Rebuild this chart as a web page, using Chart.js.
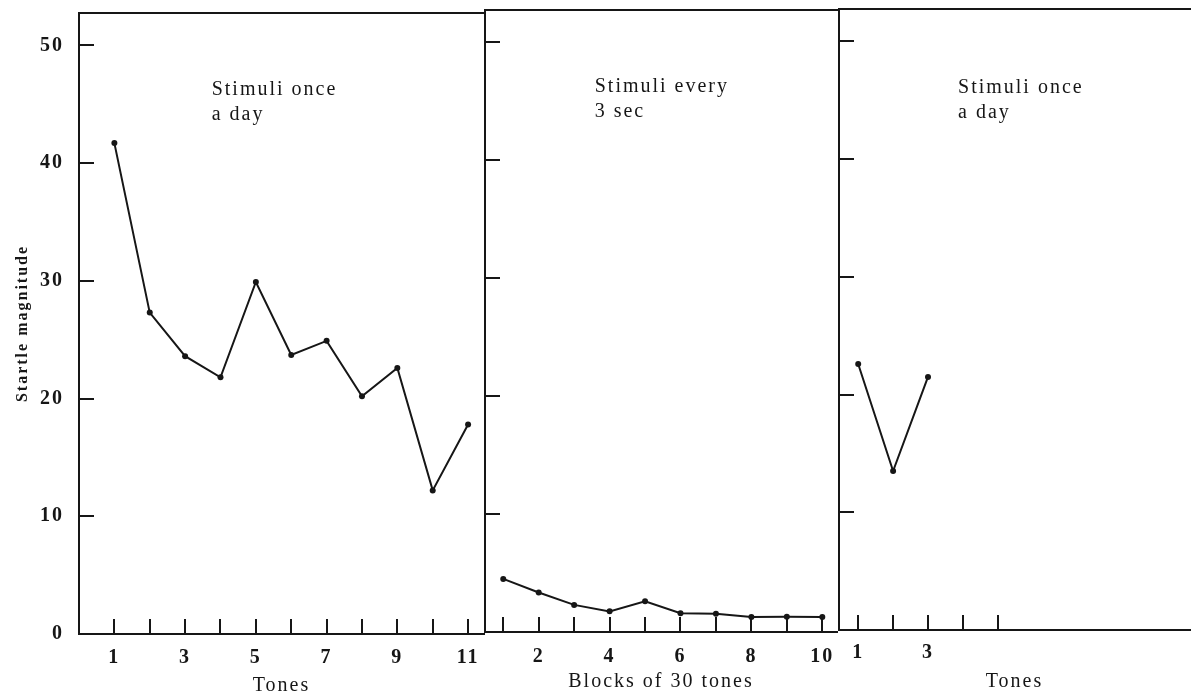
<!DOCTYPE html>
<html>
<head>
<meta charset="utf-8">
<title>Startle magnitude</title>
<script src="https://cdn.jsdelivr.net/npm/chart.js"></script>
<style>
    html, body { margin: 0; padding: 0; background: #fff; }
    #wrap { position: relative; width: 1191px; height: 696px; overflow: hidden; }
    #wrap canvas { position: absolute; top: 0; }
    #panel-a { left: 0; }
    #panel-b { left: 465px; }
    #panel-c { left: 819px; }
</style>
</head>
<body>
<div id="wrap">
    <canvas id="panel-a" width="488" height="696"></canvas>
    <canvas id="panel-b" width="376" height="696"></canvas>
    <canvas id="panel-c" width="375" height="696"></canvas>
</div>
<script>
// panel 1: stimuli once a day
const tonesA = [1, 2, 3, 4, 5, 6, 7, 8, 9, 10, 11];
const startleA = [41.7, 27.3, 23.6, 21.8, 29.9, 23.7, 24.9, 20.2, 22.6, 12.2, 17.8];
const labelsA = [1, 3, 5, 7, 9, 11];

// panel 2: stimuli every 3 sec
const blocksB = [1, 2, 3, 4, 5, 6, 7, 8, 9, 10];
const startleB = [4.5, 3.35, 2.3, 1.75, 2.6, 1.6, 1.55, 1.27, 1.3, 1.27];
const labelsB = [2, 4, 6, 8, 10];

// panel 3: stimuli once a day again
const tonesC = [1, 2, 3];
const startleC = [22.6, 13.5, 21.5];
const tickTonesC = [1, 2, 3, 4, 5];
const labelsC = [1, 3];

const yTicks = [0, 10, 20, 30, 40, 50];

const INK = '#161616';
const SERIF = '"Liberation Serif", "Times New Roman", serif';

// wider tracking, like the typeset original
const spacing = {
    id: 'spacing',
    beforeDraw(chart) {
        chart.ctx.letterSpacing = '2px';
    }
};

// scales add label padding to the chart area; the panels have to butt up exactly
function noPadding(s) {
    s.paddingLeft = 0;
    s.paddingRight = 0;
    s.paddingTop = 0;
    s.paddingBottom = 0;
}

function drawNote(chart, lines, at) {
    const ctx = chart.ctx;
    const px = chart.scales.x.getPixelForValue(at[0]);
    const py = chart.scales.y.getPixelForValue(at[1]);
    ctx.save();
    ctx.font = '20px ' + SERIF;
    ctx.fillStyle = INK;
    ctx.textAlign = 'left';
    ctx.textBaseline = 'middle';
    lines.forEach((t, i) => ctx.fillText(t, px, py + i * 25));
    ctx.restore();
}

function panel(id, cfg) {
    const ctx = document.getElementById(id).getContext('2d');
    const points = cfg.xs.map((x, i) => ({ x: x, y: cfg.ys[i] }));

    new Chart(ctx, {
        type: 'line',
        data: {
            datasets: [{
                data: points,
                borderColor: INK,
                borderWidth: 2,
                pointRadius: 3,
                pointBackgroundColor: INK,
                pointBorderWidth: 0,
                tension: 0
            }]
        },
        options: {
            responsive: false,
            animation: false,
            layout: { padding: { top: cfg.top, left: 0, right: 0, bottom: 0 } },
            plugins: {
                legend: { display: false },
                tooltip: { enabled: false }
            },
            scales: {
                x: {
                    type: 'linear',
                    position: 'bottom',
                    min: cfg.xMin,
                    max: cfg.xMax,
                    afterBuildTicks: s => { s.ticks = cfg.tickXs.map(v => ({ value: v })); },
                    afterFit: s => { s.height = cfg.xHeight; noPadding(s); },
                    ticks: {
                        autoSkip: false,
                        maxRotation: 0,
                        padding: cfg.labelPad,
                        color: INK,
                        font: { family: SERIF, size: 20, weight: 'bold' },
                        callback: v => cfg.labelXs.includes(v) ? String(v) : ''
                    },
                    grid: { display: true, drawOnChartArea: false, drawTicks: true, tickLength: -15, color: INK, lineWidth: 2 },
                    border: { display: true, color: INK, width: 2 },
                    title: {
                        display: true,
                        text: cfg.xTitle,
                        color: INK,
                        font: { family: SERIF, size: 20, lineHeight: 1 },
                        padding: { top: 0, bottom: cfg.titlePad }
                    }
                },
                y: {
                    type: 'linear',
                    position: 'left',
                    min: 0,
                    max: 52.75,
                    afterBuildTicks: s => { s.ticks = yTicks.map(v => ({ value: v })); },
                    afterFit: s => { s.width = cfg.yWidth; noPadding(s); },
                    ticks: {
                        autoSkip: false,
                        padding: 30,
                        color: INK,
                        font: { family: SERIF, size: 20, weight: 'bold' },
                        callback: v => cfg.yLabels ? String(v) : ''
                    },
                    grid: { display: true, drawOnChartArea: false, drawTicks: true, tickLength: -15, color: INK, lineWidth: 2 },
                    border: { display: true, color: INK, width: 2 },
                    title: {
                        display: !!cfg.yTitle,
                        text: cfg.yTitle || '',
                        color: INK,
                        font: { family: SERIF, size: 16, weight: 'bold', lineHeight: 1 },
                        padding: { top: 15, bottom: 0 }
                    }
                },
                // only here for the frame line along the top
                top: {
                    type: 'linear',
                    axis: 'x',
                    position: 'top',
                    afterFit: s => { s.height = 0; noPadding(s); },
                    ticks: { display: false },
                    grid: { display: false },
                    border: { display: true, color: INK, width: 2 }
                }
            }
        },
        plugins: [spacing, {
            id: 'note',
            afterDraw(chart) { drawNote(chart, cfg.note, cfg.noteAt); }
        }]
    });
}

panel('panel-a', {
    xs: tonesA, ys: startleA, tickXs: tonesA, labelXs: labelsA,
    xMin: 0, xMax: 11.45, top: 13, xHeight: 62, labelPad: 27, titlePad: 0,
    yWidth: 79, yLabels: true, yTitle: 'Startle magnitude',
    xTitle: 'Tones',
    note: ['Stimuli once', 'a day'], noteAt: [3.75, 46.2]
});

panel('panel-b', {
    xs: blocksB, ys: startleB, tickXs: blocksB, labelXs: labelsB,
    xMin: 0.485, xMax: 10.415, top: 10, xHeight: 64, labelPad: 28, titlePad: 4,
    yWidth: 20, yLabels: false,
    xTitle: 'Blocks of 30 tones',
    note: ['Stimuli every', '3 sec'], noteAt: [3.58, 46.2]
});

panel('panel-c', {
    xs: tonesC, ys: startleC, tickXs: tickTonesC, labelXs: labelsC,
    xMin: 0.45, xMax: 10.507, top: 9, xHeight: 66, labelPad: 26, titlePad: 4,
    yWidth: 20, yLabels: false,
    xTitle: 'Tones',
    note: ['Stimuli once', 'a day'], noteAt: [3.86, 46.1]
});
</script>
</body>
</html>
